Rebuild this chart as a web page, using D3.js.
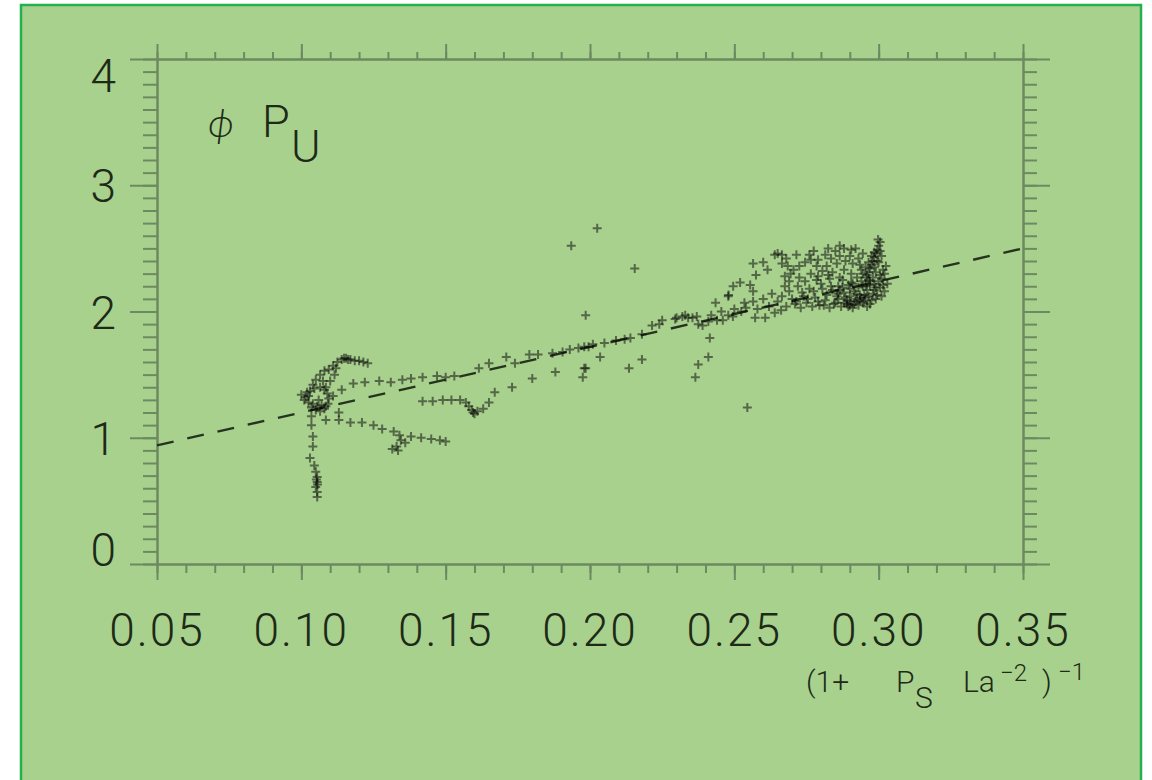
<!DOCTYPE html>
<html>
<head>
<meta charset="utf-8">
<script src="https://cdn.jsdelivr.net/npm/d3@7"></script>
<style>
  html, body { margin: 0; padding: 0; background: #fff; }
  svg { display: block; }
  text { font-family: Roboto, Lato, "Open Sans", sans-serif; font-weight: 300; fill: #1d2a17; }
</style>
</head>
<body>
<div id="main-chart"></div>
<script>
// ---- data ----
const xTicks = [0.05, 0.10, 0.15, 0.20, 0.25, 0.30, 0.35];
const xTickLabels = ["0.05", "0.10", "0.15", "0.20", "0.25", "0.30", "0.35"];
const yTicks = [0, 1, 2, 3, 4];
const yTickLabels = ["0", "1", "2", "3", "4"];

// fitted dashed line (end points)
const fitX = [0.05, 0.35];
const fitY = [0.94, 2.50];

// scatter points [x, y], grouped by the part of the cloud they belong to
const tailPts = [
  [0.1035, 1.17], [0.1035, 1.10], [0.1040, 1.01], [0.1040, 0.93], [0.1030, 0.84], [0.1045, 0.78],
  [0.1050, 0.73], [0.1055, 0.69], [0.1052, 0.67], [0.1055, 0.65], [0.1056, 0.63], [0.1050, 0.61],
  [0.1055, 0.57], [0.1055, 0.53]
];
const loopPts = [
  [0.1020, 1.36], [0.1015, 1.32], [0.1025, 1.28], [0.1035, 1.24], [0.1050, 1.22], [0.1065, 1.21],
  [0.1080, 1.23], [0.1092, 1.27], [0.1095, 1.31], [0.1090, 1.35], [0.1080, 1.38], [0.1065, 1.40],
  [0.1045, 1.39], [0.1030, 1.37], [0.1040, 1.42], [0.1050, 1.46], [0.1065, 1.50], [0.1080, 1.53],
  [0.1095, 1.54], [0.1110, 1.57], [0.1125, 1.60], [0.1140, 1.62], [0.1155, 1.63], [0.1170, 1.62],
  [0.1185, 1.61], [0.1200, 1.61], [0.1215, 1.60], [0.1230, 1.59], [0.1100, 1.45], [0.1115, 1.50],
  [0.1120, 1.55], [0.1060, 1.30], [0.1070, 1.26], [0.1010, 1.30], [0.1000, 1.34], [0.1055, 1.25],
  [0.1075, 1.45], [0.1085, 1.40], [0.1130, 1.20], [0.1140, 1.38], [0.1110, 1.33], [0.1025, 1.33],
  [0.1040, 1.27], [0.1085, 1.25], [0.1148, 1.63], [0.1162, 1.62]
];
const upperRowPts = [
  [0.118, 1.43], [0.122, 1.44], [0.127, 1.45], [0.131, 1.44], [0.135, 1.46], [0.138, 1.47],
  [0.142, 1.48], [0.147, 1.49], [0.150, 1.48], [0.153, 1.49], [0.1615, 1.55], [0.165, 1.59],
  [0.171, 1.64], [0.174, 1.59], [0.179, 1.66], [0.182, 1.66], [0.187, 1.67], [0.193, 1.70],
  [0.196, 1.71], [0.1995, 1.72]
];
const lowerRowPts = [
  [0.142, 1.29], [0.1455, 1.29], [0.149, 1.30], [0.152, 1.30], [0.155, 1.30], [0.157, 1.28],
  [0.158, 1.25], [0.159, 1.22], [0.1595, 1.20], [0.160, 1.19], [0.161, 1.21], [0.163, 1.23],
  [0.165, 1.28], [0.167, 1.36], [0.173, 1.40], [0.180, 1.47], [0.188, 1.52], [0.1985, 1.55],
  [0.1975, 1.48]
];
const bottomCurvePts = [
  [0.1085, 1.14], [0.113, 1.14], [0.117, 1.12], [0.121, 1.12], [0.125, 1.10], [0.128, 1.07],
  [0.132, 1.05], [0.134, 1.02], [0.1345, 0.98], [0.133, 0.93], [0.1315, 0.91], [0.1335, 0.90],
  [0.136, 0.96], [0.138, 1.01], [0.1415, 1.00], [0.145, 0.99], [0.148, 0.98], [0.150, 0.97]
];
const midChainPts = [
  [0.1905, 1.68], [0.198, 1.72], [0.201, 1.74], [0.205, 1.75], [0.209, 1.77], [0.212, 1.78],
  [0.214, 1.79], [0.218, 1.82], [0.2215, 1.89], [0.224, 1.90], [0.225, 1.93], [0.2295, 1.94],
  [0.232, 1.96], [0.234, 1.95], [0.2375, 1.90], [0.241, 1.92], [0.244, 1.93], [0.246, 1.93],
  [0.2495, 1.96], [0.2035, 1.64], [0.198, 1.55], [0.2135, 1.55], [0.218, 1.62], [0.2415, 1.79],
  [0.241, 1.64], [0.2375, 1.58], [0.2365, 1.48], [0.2435, 2.07], [0.248, 2.13]
];
const outlierPts = [
  [0.2025, 2.66], [0.1935, 2.52], [0.2155, 2.34], [0.1985, 1.97], [0.2545, 1.24]
];
const arcPts = [
  [0.2479, 2.12], [0.2496, 2.20], [0.2520, 2.23], [0.2555, 2.21], [0.2565, 2.16], [0.2565, 2.08],
  [0.2535, 2.07], [0.2565, 2.38], [0.2600, 2.39], [0.2615, 2.33], [0.2640, 2.45], [0.2650, 2.46],
  [0.2575, 2.29], [0.2355, 1.95], [0.2390, 1.89], [0.2479, 1.97], [0.2524, 2.00], [0.2572, 1.95],
  [0.2607, 1.95], [0.2640, 1.99], [0.2662, 2.01], [0.2650, 2.08], [0.2300, 1.95], [0.2330, 1.97],
  [0.2370, 1.96], [0.2420, 1.97], [0.2455, 2.00], [0.2500, 2.02], [0.2540, 2.03], [0.2580, 2.02],
  [0.2620, 2.04], [0.2600, 2.10], [0.2630, 2.14]
];
const clusterPts = [
  [0.268, 2.04], [0.271, 2.06], [0.273, 2.03], [0.275, 2.07], [0.277, 2.04], [0.279, 2.08],
  [0.281, 2.05], [0.283, 2.03], [0.285, 2.07], [0.287, 2.04], [0.289, 2.06], [0.291, 2.03],
  [0.293, 2.05], [0.295, 2.08], [0.297, 2.06], [0.299, 2.10], [0.301, 2.12], [0.270, 2.10],
  [0.274, 2.12], [0.278, 2.11], [0.282, 2.13], [0.286, 2.10], [0.290, 2.12], [0.294, 2.11],
  [0.298, 2.14], [0.269, 2.16], [0.272, 2.20], [0.276, 2.18], [0.280, 2.22], [0.284, 2.17],
  [0.286, 2.20], [0.288, 2.15], [0.290, 2.18], [0.291, 2.22], [0.292, 2.14], [0.293, 2.19],
  [0.294, 2.24], [0.296, 2.17], [0.297, 2.21], [0.299, 2.19], [0.300, 2.24], [0.302, 2.16],
  [0.2875, 2.25], [0.283, 2.26], [0.279, 2.28], [0.2955, 2.27], [0.2965, 2.31], [0.297, 2.34],
  [0.2975, 2.37], [0.298, 2.40], [0.2985, 2.43], [0.299, 2.46], [0.2995, 2.49], [0.300, 2.52],
  [0.3005, 2.55], [0.2998, 2.57], [0.296, 2.29], [0.2985, 2.35], [0.300, 2.39], [0.301, 2.44],
  [0.302, 2.30], [0.3025, 2.36], [0.294, 2.33], [0.301, 2.26], [0.303, 2.22], [0.2705, 2.33],
  [0.2745, 2.39], [0.276, 2.45], [0.279, 2.41], [0.282, 2.36], [0.285, 2.48], [0.288, 2.50],
  [0.290, 2.44], [0.291, 2.38], [0.292, 2.50], [0.284, 2.31], [0.288, 2.33], [0.2725, 2.27],
  [0.268, 2.42], [0.2665, 2.38], [0.293, 2.42], [0.2665, 2.12], [0.269, 2.24], [0.2675, 2.20],
  [0.289, 2.09], [0.292, 2.08], [0.295, 2.13], [0.288, 2.07], [0.290, 2.05], [0.296, 2.04],
  [0.297, 2.24], [0.298, 2.27], [0.299, 2.31], [0.286, 2.14]
];
const clusterDensePts = [
  [0.2715, 2.08], [0.2735, 2.15], [0.2755, 2.10], [0.2775, 2.16], [0.2795, 2.05], [0.2805, 2.18],
  [0.2815, 2.09], [0.2835, 2.20], [0.2845, 2.06], [0.2855, 2.12], [0.2865, 2.17], [0.2885, 2.11],
  [0.2895, 2.21], [0.2905, 2.08], [0.2915, 2.16], [0.2925, 2.10], [0.2935, 2.13], [0.2945, 2.07],
  [0.2955, 2.20], [0.2965, 2.12], [0.2975, 2.09], [0.2985, 2.17], [0.2995, 2.13], [0.3005, 2.19],
  [0.3015, 2.21], [0.2895, 2.04], [0.2915, 2.06], [0.2935, 2.09], [0.2955, 2.11], [0.2875, 2.19],
  [0.2905, 2.23], [0.2925, 2.27], [0.2945, 2.20], [0.2965, 2.25], [0.2985, 2.22], [0.3005, 2.29],
  [0.3015, 2.33], [0.2995, 2.40], [0.2985, 2.47], [0.3005, 2.48], [0.2975, 2.44], [0.2965, 2.39],
  [0.2955, 2.35], [0.2945, 2.30], [0.2935, 2.37], [0.2905, 2.30], [0.2885, 2.40], [0.2865, 2.44],
  [0.2855, 2.38], [0.2835, 2.42], [0.2815, 2.45], [0.2805, 2.32], [0.2785, 2.36], [0.2765, 2.30],
  [0.2745, 2.24], [0.2725, 2.36], [0.2715, 2.45], [0.2775, 2.48], [0.2825, 2.50], [0.2865, 2.52],
  [0.2905, 2.49], [0.2945, 2.46], [0.2785, 2.25], [0.2825, 2.29], [0.2865, 2.27], [0.2765, 2.41],
  [0.2695, 2.30], [0.2675, 2.28], [0.2685, 2.36], [0.2665, 2.45]
];

// ---- layout ----
const width = 1152, height = 780;
const plot = { left: 157, right: 1023, top: 59, bottom: 564 };

const svg = d3.select('#main-chart')
  .append('svg')
  .attr('width', width)
  .attr('height', height);

// green panel with its border
svg.append('rect')
  .attr('x', 21).attr('y', 5)
  .attr('width', 1120).attr('height', 820)
  .attr('fill', '#a9d18e')
  .attr('stroke', '#22b14c')
  .attr('stroke-width', 2.5);

const x = d3.scaleLinear().domain([0.05, 0.35]).range([plot.left, plot.right]);
const y = d3.scaleLinear().domain([0, 4]).range([plot.bottom, plot.top]);

const axisColor = '#6c8a60';

function styleAxis(g) {
  g.selectAll('path.domain').attr('stroke', axisColor).attr('stroke-width', 2);
  g.selectAll('.tick line').attr('stroke', axisColor).attr('stroke-width', 2);
  g.selectAll('.tick text').remove();
}

// minor ticks first
const xMinor = x.ticks(30);
const yMinor = y.ticks(40);

svg.append('g').attr('transform', `translate(0,${plot.bottom})`)
  .call(d3.axisBottom(x).tickValues(xMinor).tickSize(9).tickSizeOuter(0)).call(styleAxis);
svg.append('g').attr('transform', `translate(0,${plot.top})`)
  .call(d3.axisTop(x).tickValues(xMinor).tickSize(7).tickSizeOuter(0)).call(styleAxis);
svg.append('g').attr('transform', `translate(${plot.left},0)`)
  .call(d3.axisLeft(y).tickValues(yMinor).tickSize(14).tickSizeOuter(0)).call(styleAxis);
svg.append('g').attr('transform', `translate(${plot.right},0)`)
  .call(d3.axisRight(y).tickValues(yMinor).tickSize(14).tickSizeOuter(0)).call(styleAxis);

// major ticks
svg.append('g').attr('transform', `translate(0,${plot.bottom})`)
  .call(d3.axisBottom(x).tickValues(xTicks).tickSize(16).tickSizeOuter(0)).call(styleAxis);
svg.append('g').attr('transform', `translate(0,${plot.top})`)
  .call(d3.axisTop(x).tickValues(xTicks).tickSize(15).tickSizeOuter(0)).call(styleAxis);
svg.append('g').attr('transform', `translate(${plot.left},0)`)
  .call(d3.axisLeft(y).tickValues(yTicks).tickSize(27).tickSizeOuter(0)).call(styleAxis);
svg.append('g').attr('transform', `translate(${plot.right},0)`)
  .call(d3.axisRight(y).tickValues(yTicks).tickSize(27).tickSizeOuter(0)).call(styleAxis);

// tick labels
svg.append('g').selectAll('text')
  .data(xTicks)
  .join('text')
  .attr('x', d => x(d))
  .attr('y', 646)
  .attr('text-anchor', 'middle')
  .attr('font-size', 46)
  .attr('letter-spacing', 2)
  .text((d, i) => xTickLabels[i]);

svg.append('g').selectAll('text')
  .data(yTicks)
  .join('text')
  .attr('x', 116)
  .attr('y', d => y(d) + (d === 0 ? 2 : d === 4 ? 33 : 17))
  .attr('text-anchor', 'end')
  .attr('font-size', 46)
  .text((d, i) => yTickLabels[i]);

// panel label  phi P_U
const lab = svg.append('text').attr('x', 208).attr('y', 137).attr('font-size', 45);
lab.append('tspan').attr('font-style', 'italic').attr('font-size', 40).text('ϕ');
lab.append('tspan').attr('x', 262).text('P');
lab.append('tspan').attr('x', 291).attr('y', 162).text('U');

// x axis title  (1+ P_S La^-2)^-1
const xt = svg.append('text').attr('y', 692).attr('font-size', 30);
xt.append('tspan').attr('x', 806).text('(1+');
xt.append('tspan').attr('x', 896).text('P');
xt.append('tspan').attr('x', 915).attr('y', 708).text('S');
xt.append('tspan').attr('x', 963).attr('y', 692).text('La');
xt.append('tspan').attr('x', 1000).attr('y', 681).attr('font-size', 24).text('−2');
xt.append('tspan').attr('x', 1042).attr('y', 692).text(')');
xt.append('tspan').attr('x', 1058).attr('y', 680).attr('font-size', 24).text('−1');

// dashed fit line
svg.append('path')
  .datum(fitX.map((d, i) => [d, fitY[i]]))
  .attr('d', d3.line().x(d => x(d[0])).y(d => y(d[1])))
  .attr('fill', 'none')
  .attr('stroke', '#26331f')
  .attr('stroke-width', 2.4)
  .attr('stroke-dasharray', '17,14');

// scatter of crosses
const allPts = [].concat(tailPts, loopPts, upperRowPts, lowerRowPts, bottomCurvePts,
  midChainPts, outlierPts, arcPts, clusterPts, clusterDensePts);

svg.append('g').selectAll('path')
  .data(allPts)
  .join('path')
  .attr('transform', d => `translate(${x(d[0])},${y(d[1])})`)
  .attr('d', 'M-4.5,0H4.5M0,-4.5V4.5')
  .attr('stroke', '#000')
  .attr('stroke-opacity', 0.5)
  .attr('stroke-width', 2)
  .attr('fill', 'none');
</script>
</body>
</html>
